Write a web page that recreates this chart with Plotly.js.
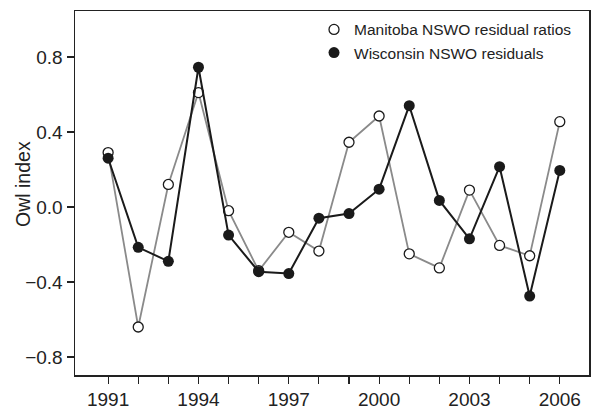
<!DOCTYPE html>
<html>
<head>
<meta charset="utf-8">
<script src="https://cdn.plot.ly/plotly-3.0.1.min.js"></script>
<style>html,body{margin:0;padding:0;background:#fff;}#chart{width:592px;height:410px;}</style>
</head>
<body>
<div id="chart"></div>
<script>
const years = [1991,1992,1993,1994,1995,1996,1997,1998,1999,2000,2001,2002,2003,2004,2005,2006];
const labelYears = [1991,1994,1997,2000,2003,2006];
const yTicks = [-0.8,-0.4,0,0.4,0.8];
const manitoba = [0.29,-0.64,0.12,0.61,-0.02,-0.34,-0.135,-0.235,0.345,0.485,-0.25,-0.325,0.09,-0.205,-0.26,0.455];
const wisconsin = [0.26,-0.215,-0.29,0.745,-0.15,-0.345,-0.355,-0.06,-0.035,0.095,0.54,0.035,-0.17,0.215,-0.475,0.195];
const manitobaName = 'Manitoba NSWO residual ratios';
const wisconsinName = 'Wisconsin NSWO residuals';
const yTitle = 'Owl index';

const font = "Liberation Sans, Arial, Helvetica, sans-serif";
const traces = [
  {x: years, y: manitoba, mode: 'lines+markers', showlegend: false,
   line: {color: '#8a8a8a', width: 1.8},
   marker: {symbol: 'circle', size: 10, color: '#ffffff', line: {color: '#1a1a1a', width: 1.3}}},
  {x: years, y: wisconsin, mode: 'lines+markers', showlegend: false,
   line: {color: '#1a1a1a', width: 2},
   marker: {symbol: 'circle', size: 11, color: '#1a1a1a'}},
  {x: [null], y: [null], mode: 'markers', name: manitobaName,
   marker: {symbol: 'circle', size: 10, color: '#ffffff', line: {color: '#1a1a1a', width: 1.3}}},
  {x: [null], y: [null], mode: 'markers', name: wisconsinName,
   marker: {symbol: 'circle', size: 11, color: '#1a1a1a'}}
];
const layout = {
  width: 592, height: 410,
  margin: {l: 75, r: 3, t: 11, b: 35},
  paper_bgcolor: '#fff', plot_bgcolor: '#fff',
  font: {family: font, color: '#222', size: 19},
  showlegend: true,
  legend: {x: 0.465, xanchor: 'left', y: 0.995, yanchor: 'top', bgcolor: 'rgba(0,0,0,0)',
           font: {size: 15.5, family: font, color: '#222'}, tracegroupgap: 0},
  xaxis: {range: [1989.9, 2006.97], tickmode: 'array', tickvals: labelYears,
          ticks: 'outside', ticklen: 7, tickwidth: 1.2, tickcolor: '#222',
          minor: {tickmode: 'array', tickvals: years, ticks: 'outside', ticklen: 7, tickwidth: 1.2, tickcolor: '#222', showgrid: false},
          showline: true, linecolor: '#222', linewidth: 1.5, mirror: true,
          showgrid: false, zeroline: false, tickfont: {size: 19}},
  yaxis: {range: [-0.896, 1.045], tickmode: 'array', tickvals: yTicks, tickformat: '.1f',
          ticks: 'outside', ticklen: 7, tickwidth: 1.2, tickcolor: '#222',
          showline: true, linecolor: '#222', linewidth: 1.5, mirror: true,
          showgrid: false, zeroline: false, tickfont: {size: 19}},
  annotations: [{text: yTitle, xref: 'paper', yref: 'paper', x: -0.101, y: 0.525,
                 xanchor: 'center', yanchor: 'middle', textangle: -90, showarrow: false,
                 font: {size: 19.5, family: font, color: '#222'}}]
};
Plotly.newPlot('chart', traces, layout, {displayModeBar: false, staticPlot: true});
</script>
</body>
</html>
